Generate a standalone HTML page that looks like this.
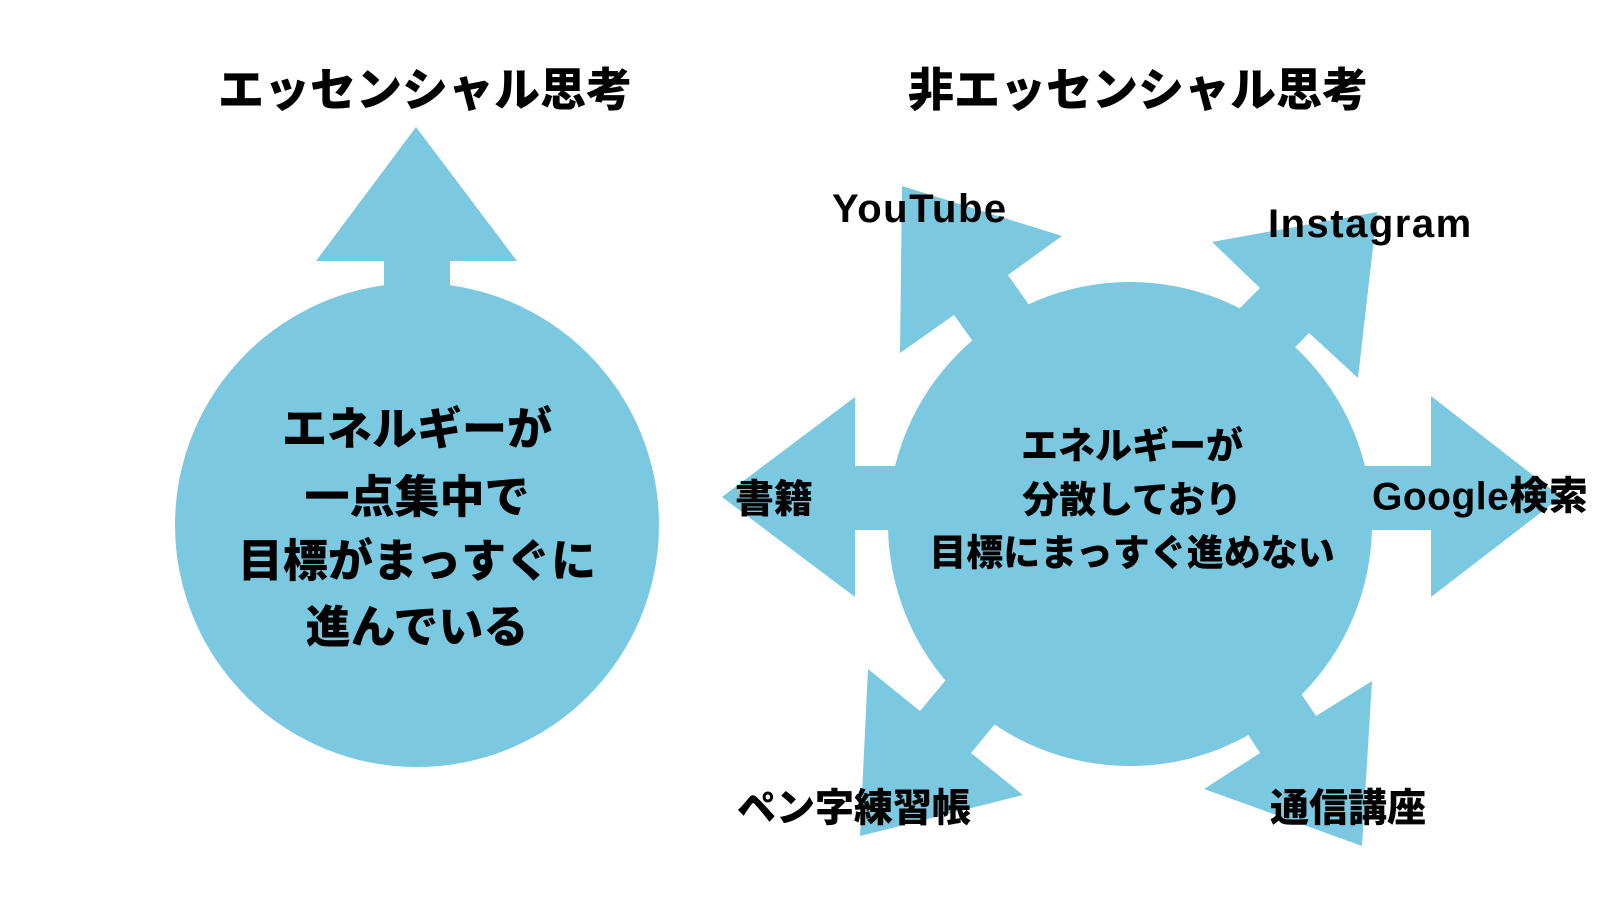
<!DOCTYPE html>
<html><head><meta charset="utf-8"><style>
html,body{margin:0;padding:0;background:#fff;}
svg{display:block;}
text{font-family:"Liberation Sans","Noto Sans CJK JP",sans-serif;font-weight:900;fill:#000;}
</style></head><body>
<svg width="1600" height="900" viewBox="0 0 1600 900" xmlns="http://www.w3.org/2000/svg">
<g fill="#7BC9E0">
<circle cx="417" cy="525" r="242"/>
<polygon points="316,261 416,127 517,261 450,261 450,290 384,290 384,261"/>
<circle cx="1130" cy="524" r="242"/>
<polygon points="722,497 855,397 855,466 910,466 910,530 855,530 855,597"/>
<polygon points="1561,497 1431,396 1431,466 1360,466 1360,530 1431,530 1431,597"/>
<polygon points="902,186 1062,236 1008,275 1050,335 994,371 954,315 900,353"/>
<polygon points="1212,242 1377,212 1358,378 1309,333 1276,367 1220,328 1260,288"/>
<polygon points="868,669 920,711 970,651 1019,695 971,753 1023,795 860,836"/>
<polygon points="1372,681 1362,846 1204,789 1260,753 1238,719 1288,674 1316,716"/>
</g>
<g text-anchor="middle" dominant-baseline="central">
<text x="425" y="90" font-size="46">エッセンシャル思考</text>
<text x="1138" y="90" font-size="46">非エッセンシャル思考</text>
<text x="417" y="429" font-size="45">エネルギーが</text>
<text x="417" y="497" font-size="45">一点集中で</text>
<text x="417" y="561" font-size="45">目標がまっすぐに</text>
<text x="417" y="627" font-size="45">進んでいる</text>
<text x="1132" y="446" font-size="37">エネルギーが</text>
<text x="1132" y="500" font-size="37">分散しており</text>
<text x="1132" y="553" font-size="37">目標にまっすぐ進めない</text>
</g>
<g dominant-baseline="central">
<text x="832" y="209" font-size="40" letter-spacing="1.5">YouTube</text>
<text x="1268" y="224" font-size="40" letter-spacing="1.5">Instagram</text>
<text x="1372" y="497" font-size="39" letter-spacing="0.5">Google検索</text>
<text x="735" y="500" font-size="39">書籍</text>
<text x="737" y="809" font-size="39">ペン字練習帳</text>
<text x="1270" y="809" font-size="39">通信講座</text>
</g>
</svg>
</body></html>
